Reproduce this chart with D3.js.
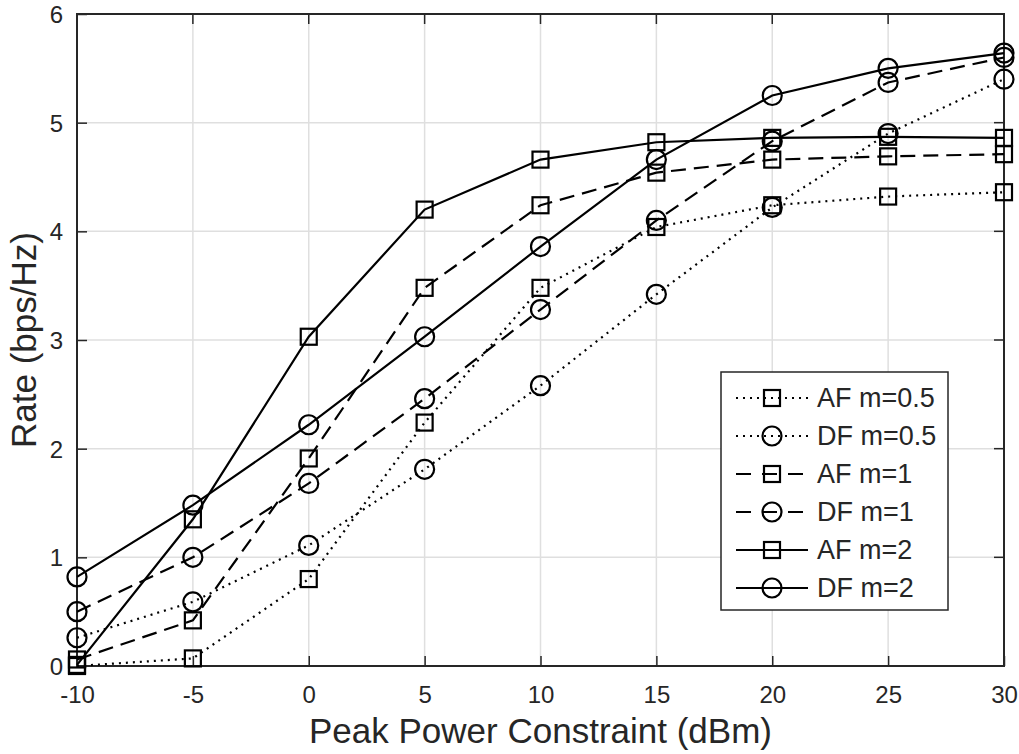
<!DOCTYPE html>
<html>
<head>
<meta charset="utf-8">
<script src="https://cdn.jsdelivr.net/npm/d3@7"></script>
<style>
  body { margin: 0; background: #fff; }
  svg text { font-family: "Liberation Sans", Arial, sans-serif; fill: #262626; }
</style>
</head>
<body>
<svg id="chart"></svg>
<script>
// power levels (dBm)
let power = [-10, -5, 0, 5, 10, 15, 20, 25, 30];

let af_05 = [0.0, 0.07, 0.80, 2.24, 3.48, 4.04, 4.24, 4.32, 4.36];
let df_05 = [0.26, 0.59, 1.11, 1.81, 2.58, 3.42, 4.22, 4.90, 5.40];
let af_1 = [0.06, 0.42, 1.91, 3.48, 4.24, 4.54, 4.66, 4.69, 4.71];
let df_1 = [0.50, 1.00, 1.68, 2.46, 3.28, 4.10, 4.83, 5.37, 5.60];
let af_2 = [0.01, 1.35, 3.03, 4.20, 4.66, 4.82, 4.86, 4.87, 4.86];
let df_2 = [0.82, 1.48, 2.22, 3.03, 3.86, 4.66, 5.25, 5.50, 5.64];

let series_names = ['AF m=0.5', 'DF m=0.5', 'AF m=1', 'DF m=1', 'AF m=2', 'DF m=2'];
let x_ticks = [-10, -5, 0, 5, 10, 15, 20, 25, 30];
let y_ticks = [0, 1, 2, 3, 4, 5, 6];

let width = 1019, height = 754;
let padding = { left: 77, right: 15, top: 14, bottom: 88 };

let svg = d3.select('#chart').attr('width', width).attr('height', height);

let x = d3.scaleLinear().domain([-10, 30]).range([padding.left, width - padding.right]);
let y = d3.scaleLinear().domain([0, 6]).range([height - padding.bottom, padding.top]);

let styles = [
    { dash: '2,5', marker: 'square' },
    { dash: '2,5', marker: 'circle' },
    { dash: '15,8', marker: 'square' },
    { dash: '15,8', marker: 'circle' },
    { dash: null, marker: 'square' },
    { dash: null, marker: 'circle' }
];
let all_data = [af_05, df_05, af_1, df_1, af_2, df_2];

// grid
let grid = svg.append('g');
grid.selectAll('.gx').data(x_ticks).enter().append('line')
    .attr('x1', d => x(d)).attr('x2', d => x(d))
    .attr('y1', y(0)).attr('y2', y(6))
    .attr('stroke', '#dfdfdf').attr('stroke-width', 1.5);
grid.selectAll('.gy').data(y_ticks).enter().append('line')
    .attr('x1', x(-10)).attr('x2', x(30))
    .attr('y1', d => y(d)).attr('y2', d => y(d))
    .attr('stroke', '#dfdfdf').attr('stroke-width', 1.5);

// axes
let axis_x = d3.axisBottom(x).tickValues(x_ticks).tickSizeInner(-10).tickSizeOuter(0)
    .tickPadding(20).tickFormat(d => String(d));
let axis_y = d3.axisLeft(y).tickValues(y_ticks).tickSizeInner(-10).tickSizeOuter(0)
    .tickPadding(14).tickFormat(d => String(d));

let gx = svg.append('g')
    .attr('transform', `translate(0, ${y(0)})`)
    .call(axis_x);
let gy = svg.append('g')
    .attr('transform', `translate(${x(-10)}, 0)`)
    .call(axis_y);
[gx, gy].forEach(g => {
    g.attr('font-family', null).attr('font-size', null);
    g.selectAll('line').attr('stroke', '#262626').attr('stroke-width', 1.5);
    g.select('.domain').attr('stroke', 'none');
    g.selectAll('text').style('font-size', '24px').attr('fill', '#262626');
});
gx.selectAll('text').attr('dy', '0.71em');
gy.selectAll('text').attr('dy', '0.35em');

// top/right ticks
svg.append('g').selectAll('line').data(x_ticks).enter().append('line')
    .attr('x1', d => x(d)).attr('x2', d => x(d))
    .attr('y1', y(6)).attr('y2', y(6) + 10)
    .attr('stroke', '#262626').attr('stroke-width', 1.5);
svg.append('g').selectAll('line').data(y_ticks).enter().append('line')
    .attr('x1', x(30)).attr('x2', x(30) - 10)
    .attr('y1', d => y(d)).attr('y2', d => y(d))
    .attr('stroke', '#262626').attr('stroke-width', 1.5);

// box
svg.append('rect')
    .attr('x', x(-10)).attr('y', y(6))
    .attr('width', x(30) - x(-10)).attr('height', y(0) - y(6))
    .attr('fill', 'none').attr('stroke', '#262626').attr('stroke-width', 2);

// axis labels
svg.append('text')
    .attr('x', (x(-10) + x(30)) / 2).attr('y', 743)
    .attr('text-anchor', 'middle')
    .style('font-size', '35px')
    .text('Peak Power Constraint (dBm)');
svg.append('text')
    .attr('transform', `translate(36, ${(y(0) + y(6)) / 2}) rotate(-90)`)
    .attr('text-anchor', 'middle')
    .style('font-size', '35px')
    .text('Rate (bps/Hz)');

function draw_marker(g, type, cx, cy) {
    if (type === 'square') {
        g.append('rect')
            .attr('x', cx - 8).attr('y', cy - 8)
            .attr('width', 16).attr('height', 16)
            .attr('fill', 'none').attr('stroke', '#000').attr('stroke-width', 2.2);
    } else {
        g.append('circle')
            .attr('cx', cx).attr('cy', cy).attr('r', 9.5)
            .attr('fill', 'none').attr('stroke', '#000').attr('stroke-width', 2.2);
    }
}

// lines
let line = d3.line().x((d, i) => x(power[i])).y(d => y(d));
all_data.forEach((vals, k) => {
    let g = svg.append('g');
    g.append('path')
        .datum(vals)
        .attr('d', line)
        .attr('fill', 'none')
        .attr('stroke', '#000')
        .attr('stroke-width', 2.2)
        .attr('stroke-dasharray', styles[k].dash);
    vals.forEach((v, i) => draw_marker(g, styles[k].marker, x(power[i]), y(v)));
});

// legend
let legend = svg.append('g').attr('transform', 'translate(721, 372)');
legend.append('rect')
    .attr('width', 227).attr('height', 238)
    .attr('fill', '#fff').attr('stroke', '#262626').attr('stroke-width', 1.5);
series_names.forEach((name, k) => {
    let row = legend.append('g').attr('transform', `translate(0, ${26 + k * 38})`);
    row.append('line')
        .attr('x1', 15).attr('x2', 87).attr('y1', 0).attr('y2', 0)
        .attr('stroke', '#000').attr('stroke-width', 2.2)
        .attr('stroke-dasharray', styles[k].dash ? (k < 2 ? '2,5' : '15,11') : null);
    draw_marker(row, styles[k].marker, 51, 0);
    row.append('text')
        .attr('x', 96).attr('y', 0).attr('dy', '0.35em')
        .style('font-size', '27px')
        .text(name);
});
</script>
</body>
</html>
